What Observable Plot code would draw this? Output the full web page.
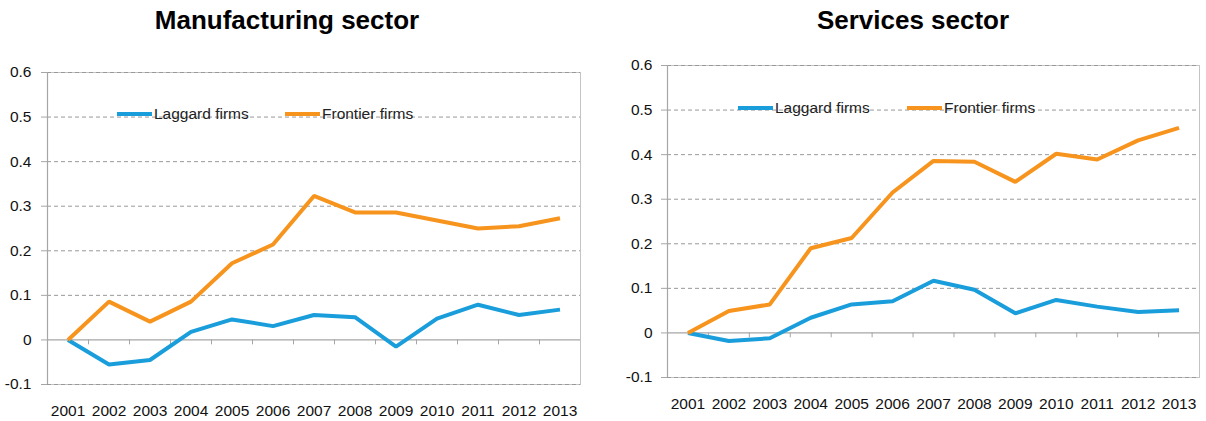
<!DOCTYPE html>
<html><head><meta charset="utf-8">
<script src="https://cdn.jsdelivr.net/npm/d3@7"></script>
<script src="https://cdn.jsdelivr.net/npm/@observablehq/plot@0.6"></script>
<style>
body{margin:0;background:#fff;}
#wrap{position:relative;width:1206px;height:421px;overflow:hidden;}
.chart{position:absolute;top:0;}
.chart svg text{font-family:"Liberation Sans",Arial,sans-serif !important;font-size:15.5px !important;fill:#111;}
.title{position:absolute;top:5px;font:bold 26px "Liberation Sans",Arial,sans-serif;color:#000;white-space:nowrap;transform:translateX(-50%);}
.legend-item{position:absolute;font:15.5px "Liberation Sans",Arial,sans-serif;color:#222;display:flex;align-items:center;white-space:nowrap;height:22px;line-height:22px;}
.legend-item .sw{display:inline-block;width:35px;height:4px;margin-right:2px;}
</style></head>
<body><div id="wrap"></div>
<script>
const years = ["2001","2002","2003","2004","2005","2006","2007","2008","2009","2010","2011","2012","2013"];
const seriesNames = ["Laggard firms","Frontier firms"];
const seriesColors = ["#1a9edb","#f7941d"];
const yTicks = [-0.1,0,0.1,0.2,0.3,0.4,0.5,0.6];
const titles = ["Manufacturing sector","Services sector"];
const mfgLaggard = [0,-0.055,-0.045,0.018,0.046,0.031,0.056,0.051,-0.015,0.048,0.079,0.056,0.068];
const mfgFrontier = [0,0.086,0.041,0.086,0.172,0.214,0.323,0.286,0.286,0.268,0.250,0.255,0.273];
const svcLaggard = [0,-0.018,-0.012,0.034,0.064,0.071,0.117,0.097,0.044,0.074,0.059,0.047,0.051];
const svcFrontier = [0,0.049,0.064,0.190,0.213,0.315,0.386,0.384,0.339,0.402,0.389,0.432,0.460];

const font = '"Liberation Sans",Arial,sans-serif';
const wrap = document.getElementById("wrap");
const fmt = d => d === 0 ? "0" : String(+d.toFixed(1));

function makeChart(cfg){
  const rows = [];
  cfg.series.forEach((vals,si)=>vals.forEach((v,i)=>rows.push({year:years[i],value:v,series:seriesNames[si]})));
  const plotW = cfg.width - cfg.ml - cfg.mr;
  const step = plotW / years.length;
  const plot = Plot.plot({
    width: cfg.width, height: 421,
    marginLeft: cfg.ml, marginRight: cfg.mr, marginTop: cfg.mt, marginBottom: cfg.mb,
    style: {fontFamily: font, fontSize: "15.5px", color: "#111", background: "transparent"},
    x: {type: "point", domain: years, padding: 0.5, round: false, label: null},
    y: {domain: [-0.1, 0.6], label: null},
    color: {domain: seriesNames, range: seriesColors},
    marks: [
      Plot.frame({stroke: "#c4c4c4"}),
      Plot.ruleY(yTicks.filter(d => d !== 0), {stroke: "#999", strokeDasharray: "4,3", strokeWidth: 1}),
      Plot.ruleY([0], {stroke: "#a6a6a6", strokeWidth: 1.2}),
      Plot.ruleX(years.slice(0, -1), {x: d => d, y1: 0, y2: -0.011, dx: step/2, stroke: "#a6a6a6"}),
      Plot.ruleX([years[0]], {y1: -0.1, y2: 0.6, dx: -step/2, stroke: "#a6a6a6", strokeWidth: 1.2}),
      Plot.line(rows, {x: "year", y: "value", stroke: "series", strokeWidth: 4, strokeLinejoin: "miter", strokeLinecap: "butt"}),
      Plot.axisX({tickSize: 0, tickPadding: 20, fontSize: 15.5}),
      Plot.axisY({ticks: yTicks, tickSize: 6, tickPadding: cfg.tp, stroke: "#a6a6a6", fontSize: 15.5, tickFormat: fmt})
    ]
  });
  const div = document.createElement("div");
  div.className = "chart";
  div.style.left = cfg.left + "px";
  div.appendChild(plot);
  wrap.appendChild(div);

  const t = document.createElement("div");
  t.className = "title"; t.textContent = cfg.title;
  t.style.left = cfg.titleX + "px";
  wrap.appendChild(t);

  seriesNames.forEach((n,i)=>{
    const it = document.createElement("div"); it.className = "legend-item";
    it.style.left = cfg.legX[i] + "px"; it.style.top = cfg.legY + "px";
    const sw = document.createElement("span"); sw.className = "sw"; sw.style.background = seriesColors[i];
    const tx = document.createElement("span"); tx.textContent = n;
    it.appendChild(sw); it.appendChild(tx); wrap.appendChild(it);
  });
}

makeChart({left: 0, width: 603, ml: 47, mr: 23, mt: 72, mb: 37, tp: 10, title: titles[0], titleX: 287, legX: [117, 285], legY: 103, series: [mfgLaggard, mfgFrontier]});
makeChart({left: 603, width: 603, ml: 64, mr: 7, mt: 65, mb: 44, tp: 9, title: titles[1], titleX: 913, legX: [738, 907], legY: 97, series: [svcLaggard, svcFrontier]});
</script></body></html>
